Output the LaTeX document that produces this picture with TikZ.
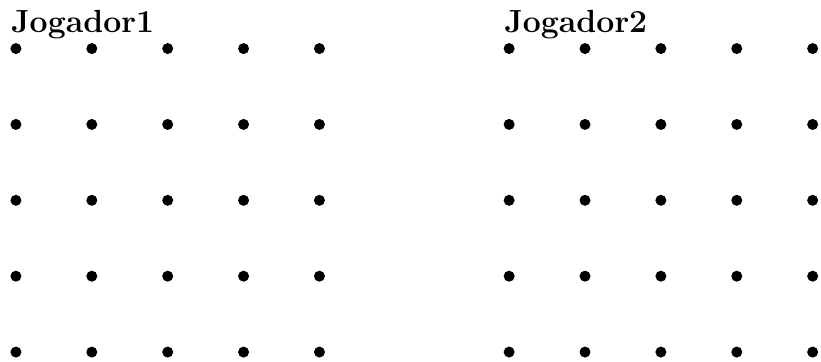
\documentclass[tikz,border=0pt]{standalone}
\begin{document}
\begin{tikzpicture}[
  dot/.style={circle, fill, inner sep=0pt, minimum size=0.145cm},
  label/.style={font=\fontsize{12}{14}\selectfont\bfseries, inner sep=0pt, anchor=base west}
]
\useasboundingbox (-0.21,-0.12) rectangle (10.61,4.64);
\node[label] (j1) at (-0.07,4.21) {Jogador1};
\node[label] (j2) at (6.43,4.21) {Jogador2};
\foreach \i in {0,...,4}
  \foreach \j in {0,...,4} {
    \node[dot] (a-\i-\j) at (\i,\j) {};
    \node[dot] (b-\i-\j) at (6.5+\i,\j) {};
  }
\end{tikzpicture}
\end{document}
